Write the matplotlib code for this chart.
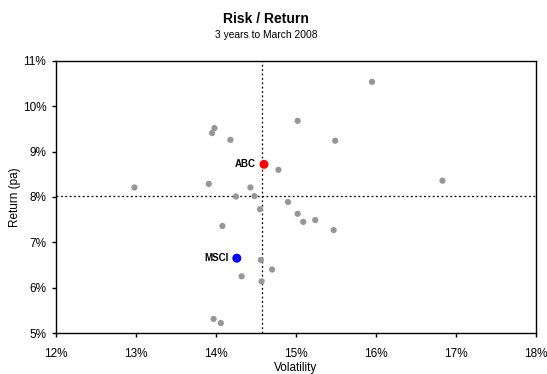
import matplotlib
matplotlib.use("Agg")
import matplotlib.pyplot as plt
from matplotlib.ticker import FuncFormatter

plt.rcParams['font.family'] = ['Liberation Sans', 'DejaVu Sans']

# peer funds (volatility %, return %)
peer_vol = [12.98, 13.95, 13.98, 14.18, 14.78, 13.91, 14.43, 14.25, 14.48, 14.90,
            15.02, 14.55, 15.95, 15.49, 16.83, 14.08, 14.56, 14.70, 14.32, 14.57,
            13.97, 14.06, 15.02, 15.09, 15.24, 15.47]
peer_ret = [8.21, 9.41, 9.52, 9.26, 8.60, 8.29, 8.21, 8.01, 8.02, 7.89,
            9.68, 7.73, 10.54, 9.24, 8.36, 7.36, 6.61, 6.40, 6.25, 6.14,
            5.31, 5.22, 7.63, 7.45, 7.49, 7.27]

highlight_names = ["ABC", "MSCI"]
highlight_vol = [14.60, 14.26]
highlight_ret = [8.72, 6.65]
highlight_colors = ["#ff0000", "#0000ff"]

# average lines
avg_vol = 14.57
avg_ret = 8.02

x_ticks = [12, 13, 14, 15, 16, 17, 18]
y_ticks = [5, 6, 7, 8, 9, 10, 11]

fig = plt.figure(figsize=(5.47, 3.74), dpi=100)
ax = fig.add_axes([0.1024, 0.1096, 0.8776, 0.7274])

ax.scatter(peer_vol, peer_ret, s=20, color="#969696", edgecolors="none", zorder=3)
for name, v, r, c in zip(highlight_names, highlight_vol, highlight_ret, highlight_colors):
    ax.scatter([v], [r], s=42, color=c, edgecolors="none", zorder=4)
    ax.annotate(name, (v, r), xytext=(-6, 0), textcoords="offset points",
                ha="right", va="center", fontsize=7, fontweight="bold")

ax.axvline(avg_vol, color="black", lw=0.9, linestyle=(0, (1.5, 2)), zorder=2)
ax.axhline(avg_ret, color="black", lw=0.9, linestyle=(0, (1.5, 2)), zorder=2)

ax.set_xlim(12, 18)
ax.set_ylim(5, 11)
ax.set_xticks(x_ticks)
ax.set_yticks(y_ticks)
pct = FuncFormatter(lambda v, p: f"{v:.0f}%")
ax.xaxis.set_major_formatter(pct)
ax.yaxis.set_major_formatter(pct)
ax.tick_params(direction="out", length=3, width=1, labelsize=8.5)
ax.tick_params(axis="x", pad=7.5)
ax.tick_params(axis="y", pad=4)

for s in ax.spines.values():
    s.set_linewidth(1)
    s.set_color("black")

ax.set_xlabel("Volatility", fontsize=8.5, labelpad=2)
ax.set_ylabel("Return (pa)", fontsize=8.5, labelpad=1)

fig.text(0.486, 0.95, "Risk / Return", ha="center", va="center",
         fontsize=10, fontweight="bold")
fig.text(0.486, 0.906, "3 years to March 2008", ha="center", va="center", fontsize=7.4)

fig.savefig("out.png", dpi=100)
